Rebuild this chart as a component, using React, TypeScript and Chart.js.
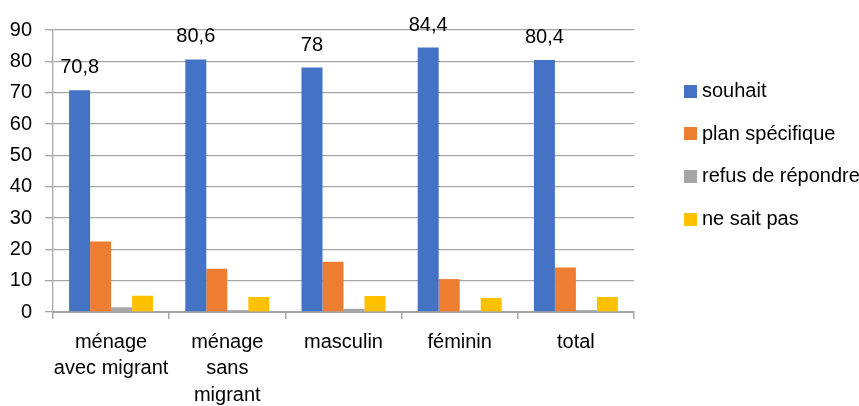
import React, { useEffect, useRef } from "react";
import { Chart, registerables } from "chart.js";

Chart.register(...registerables);

const categories: (string | string[])[] = [
  ["ménage", "avec migrant"],
  ["ménage", "sans", "migrant"],
  "masculin",
  "féminin",
  "total",
];
const souhait = [70.8, 80.6, 78, 84.4, 80.4];
const planSpecifique = [22.5, 13.8, 16.0, 10.5, 14.2];
const refusDeRepondre = [1.5, 0.6, 1.0, 0.5, 0.6];
const neSaitPas = [5.2, 4.8, 5.1, 4.5, 4.8];
const yTicks = { min: 0, max: 90, step: 10 };

const FONT = "'Liberation Sans', Arial, sans-serif";

const labelPlugin = {
  id: "souhaitLabels",
  afterDatasetsDraw(chart: any) {
    const ctx = chart.ctx;
    const meta = chart.getDatasetMeta(0);
    const data = chart.data.datasets[0].data as number[];
    ctx.save();
    ctx.font = `20px ${FONT}`;
    ctx.fillStyle = "#000";
    ctx.textAlign = "center";
    ctx.textBaseline = "alphabetic";
    meta.data.forEach((el: any, i: number) => {
      ctx.fillText(String(data[i]).replace(".", ","), el.x, el.y - 17);
    });
    ctx.restore();
  },
};

const legendPlugin = {
  id: "sideLegend",
  afterDraw(chart: any) {
    const ctx = chart.ctx;
    ctx.save();
    ctx.font = `20px ${FONT}`;
    ctx.textAlign = "left";
    ctx.textBaseline = "middle";
    chart.data.datasets.forEach((ds: any, i: number) => {
      const cy = 91 + i * 42.7;
      ctx.fillStyle = ds.backgroundColor;
      ctx.fillRect(684, Math.round(cy - 6.5), 13, 13);
      ctx.fillStyle = "#000";
      ctx.fillText(ds.label, 702, cy + 0.5);
    });
    ctx.restore();
  },
};

export default function App() {
  const ref = useRef<HTMLCanvasElement | null>(null);
  useEffect(() => {
    document.body.style.margin = "0";
    const chart = new Chart(ref.current!, {
      type: "bar",
      data: {
        labels: categories,
        datasets: [
          { label: "souhait", data: souhait, backgroundColor: "#4472C4" },
          { label: "plan spécifique", data: planSpecifique, backgroundColor: "#ED7D31" },
          { label: "refus de répondre", data: refusDeRepondre, backgroundColor: "#A5A5A5" },
          { label: "ne sait pas", data: neSaitPas, backgroundColor: "#FFC000" },
        ],
      },
      options: {
        animation: false,
        responsive: false,
        maintainAspectRatio: false,
        layout: { padding: { left: 10, top: 30, right: 225, bottom: 0 } },
        datasets: { bar: { categoryPercentage: 0.723, barPercentage: 1 } },
        plugins: {
          legend: { display: false },
          tooltip: { enabled: false },
        },
        scales: {
          x: {
            offset: true,
            grid: {
              offset: true,
              drawOnChartArea: false,
              drawTicks: true,
              tickLength: 7,
              color: "#a6a6a6",
              lineWidth: 1.5,
            },
            border: { display: true, color: "#a6a6a6", width: 2 },
            ticks: {
              color: "#000",
              padding: 10,
              maxRotation: 0,
              autoSkip: false,
              font: { family: FONT, size: 20, lineHeight: 1.33 },
            },
            afterFit: (scale: any) => {
              scale.height = 94;
              scale.paddingLeft = 0;
              scale.paddingRight = 0;
            },
          },
          y: {
            min: yTicks.min,
            max: yTicks.max,
            grid: {
              color: "#a6a6a6",
              lineWidth: 1.3,
              drawTicks: true,
              tickLength: 8,
            },
            border: { display: true, color: "#a6a6a6", width: 1.3 },
            ticks: {
              stepSize: yTicks.step,
              color: "#000",
              padding: 13,
              font: { family: FONT, size: 20 },
            },
            afterFit: (scale: any) => {
              scale.width = 43;
            },
          },
        },
      },
      plugins: [labelPlugin, legendPlugin],
    });
    return () => chart.destroy();
  }, []);
  return (
    <div style={{ position: "fixed", left: 0, top: 0, width: 859, height: 406, overflow: "hidden", background: "#fff" }}>
      <canvas ref={ref} width={859} height={406} style={{ width: 859, height: 406 }} />
    </div>
  );
}
